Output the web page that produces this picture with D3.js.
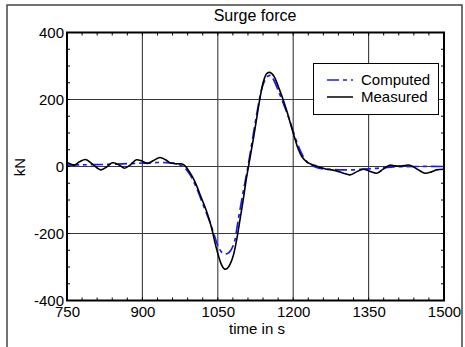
<!DOCTYPE html>
<html>
<head>
<meta charset="utf-8">
<script src="https://cdn.jsdelivr.net/npm/d3@7"></script>
<style>
  html, body { margin: 0; padding: 0; background: #fff; }
  svg { display: block; font-family: "Liberation Sans", Arial, sans-serif; }
</style>
</head>
<body>
<svg id="chart" width="465" height="347"></svg>
<script>
const title = "Surge force";
const xLabel = "time in s";
const yLabel = "kN";
const xTicks = [750, 900, 1050, 1200, 1350, 1500];
const yTicks = [-400, -200, 0, 200, 400];
const seriesNames = ["Computed", "Measured"];

const measuredT = [750, 756, 764, 775, 787, 800, 817, 830, 840, 852, 864, 876, 888, 898, 910, 922, 935, 946, 955, 966, 977, 985, 993, 1001, 1008, 1015, 1028, 1038, 1044, 1051, 1057, 1063, 1069, 1075, 1081, 1088, 1094, 1101, 1107, 1114, 1121, 1128, 1134, 1141, 1147, 1152, 1157, 1163, 1170, 1178, 1187, 1195, 1203, 1210, 1217, 1227, 1237, 1247, 1257, 1266, 1276, 1286, 1300, 1313, 1326, 1339, 1352, 1366, 1379, 1392, 1402, 1412, 1422, 1432, 1447, 1462, 1475, 1485, 1500];
const measuredV = [12, 8, 4, 14, 21, 8, -10, 0, 11, 6, -5, 5, 20, 17, 9, 18, 27, 20, 11, 8, 8, 2, -15, -35, -58, -85, -135, -185, -225, -265, -292, -306, -304, -290, -265, -215, -160, -95, -35, 25, 85, 150, 205, 255, 277, 281, 278, 266, 240, 208, 167, 126, 85, 52, 30, 14, 6, 1, -4, -8, -10, -13, -20, -25, -16, -8, -14, -20, -8, 4, 2, 1, 3, 4, -8, -20, -16, -10, -8];

const computedT = [750, 780, 820, 860, 900, 930, 955, 970, 981, 988, 995, 1008, 1021, 1034, 1044, 1051, 1058, 1064, 1070, 1076, 1083, 1090, 1100, 1110, 1120, 1130, 1138, 1144, 1150, 1155, 1160, 1170, 1180, 1190, 1200, 1210, 1220, 1230, 1245, 1260, 1280, 1300, 1320, 1340, 1360, 1380, 1400, 1440, 1500];
const computedV = [4, 5, 6, 8, 10, 12, 11, 7, 0, -10, -25, -65, -115, -165, -210, -240, -256, -261, -259, -250, -225, -165, -80, 0, 90, 178, 235, 258, 270, 272, 262, 228, 190, 150, 105, 62, 30, 10, -2, -7, -9, -10, -10, -8, -6, -4, -1, 0, 0];

const svg = d3.select("#chart");
const L = 67, R = 444, T = 32.5, B = 300.5;
const FONT = "'Liberation Sans', Arial, sans-serif";

// outer frame
svg.append("path")
  .attr("d", "M7,352 L7,5 L462,5 L462,352")
  .attr("fill", "none").attr("stroke", "#444").attr("stroke-width", 1.5);

const x = d3.scaleLinear().domain([750, 1500]).range([L, R]);
const y = d3.scaleLinear().domain([-400, 400]).range([B, T]);

// grid
const g = svg.append("g");
g.selectAll("line.gx").data(xTicks.slice(1, -1)).join("line")
  .attr("x1", d => x(d)).attr("x2", d => x(d)).attr("y1", T).attr("y2", B)
  .attr("stroke", "#3a3a3a").attr("stroke-width", 1.1);
g.selectAll("line.gy").data(yTicks.slice(1, -1)).join("line")
  .attr("y1", d => y(d)).attr("y2", d => y(d)).attr("x1", L).attr("x2", R)
  .attr("stroke", "#3a3a3a").attr("stroke-width", 1.1);

// minor ticks (inside, all four sides)
const xMinor = d3.range(750, 1501, 30);
const yMinor = d3.range(-400, 401, 50);
const tk = svg.append("g").attr("stroke", "#000").attr("stroke-width", 1);
xMinor.forEach(v => {
  tk.append("line").attr("x1", x(v)).attr("x2", x(v)).attr("y1", B).attr("y2", B - 3);
  tk.append("line").attr("x1", x(v)).attr("x2", x(v)).attr("y1", T).attr("y2", T + 3);
});
yMinor.forEach(v => {
  tk.append("line").attr("y1", y(v)).attr("y2", y(v)).attr("x1", L).attr("x2", L + 3);
  tk.append("line").attr("y1", y(v)).attr("y2", y(v)).attr("x1", R).attr("x2", R - 3);
});

// axes labels via d3 axes
const xAxis = svg.append("g").attr("transform", `translate(0,${B})`)
  .call(d3.axisBottom(x).tickValues(xTicks).tickSize(0).tickPadding(6).tickFormat(d => String(d)));
const yAxis = svg.append("g").attr("transform", `translate(${L},0)`)
  .call(d3.axisLeft(y).tickValues(yTicks).tickSize(0).tickPadding(3).tickFormat(d => String(d)));
[xAxis, yAxis].forEach(a => {
  a.select(".domain").remove();
  a.selectAll("text").attr("font-size", 15).attr("fill", "#000").attr("font-family", FONT);
});

// clip
svg.append("clipPath").attr("id", "clip").append("rect")
  .attr("x", L).attr("y", T).attr("width", R - L).attr("height", B - T);

const line = d3.line().x(d => x(d[0])).y(d => y(d[1])).curve(d3.curveCatmullRom.alpha(0.5));
const computed = computedT.map((t, i) => [t, computedV[i]]);
const measured = measuredT.map((t, i) => [t, measuredV[i]]);

const plot = svg.append("g").attr("clip-path", "url(#clip)");
plot.append("path").datum(computed).attr("d", line)
  .attr("fill", "none").attr("stroke", "#1a1aff").attr("stroke-width", 1.7)
  .attr("stroke-dasharray", "12,4,4,4");
plot.append("path").datum(measured).attr("d", line)
  .attr("fill", "none").attr("stroke", "#000").attr("stroke-width", 1.6);

// plot frame
svg.append("rect").attr("x", L).attr("y", T).attr("width", R - L).attr("height", B - T)
  .attr("fill", "none").attr("stroke", "#000").attr("stroke-width", 2);

// title and axis titles
svg.append("text").attr("x", 255).attr("y", 21).attr("text-anchor", "middle")
  .attr("font-size", 16).text(title);
svg.append("text").attr("x", 257).attr("y", 334).attr("text-anchor", "middle")
  .attr("font-size", 15).text(xLabel);
svg.append("text").attr("transform", "translate(25,167) rotate(-90)").attr("text-anchor", "middle")
  .attr("font-size", 15).text(yLabel);

// legend
const lg = svg.append("g");
lg.append("rect").attr("x", 313.5).attr("y", 63.5).attr("width", 125).attr("height", 51)
  .attr("fill", "#fff").attr("stroke", "#000").attr("stroke-width", 1);
const legendStyles = [
  { color: "#1a1aff", dash: "12,4,4,4" },
  { color: "#000", dash: null }
];
seriesNames.forEach((name, i) => {
  const yy = 80 + i * 17;
  const ln = lg.append("line").attr("x1", 327).attr("x2", 353).attr("y1", yy).attr("y2", yy)
    .attr("stroke", legendStyles[i].color).attr("stroke-width", 1.5);
  if (legendStyles[i].dash) ln.attr("stroke-dasharray", legendStyles[i].dash);
  lg.append("text").attr("x", 361).attr("y", yy + 5).attr("font-size", 15).text(name);
});
</script>
</body>
</html>
